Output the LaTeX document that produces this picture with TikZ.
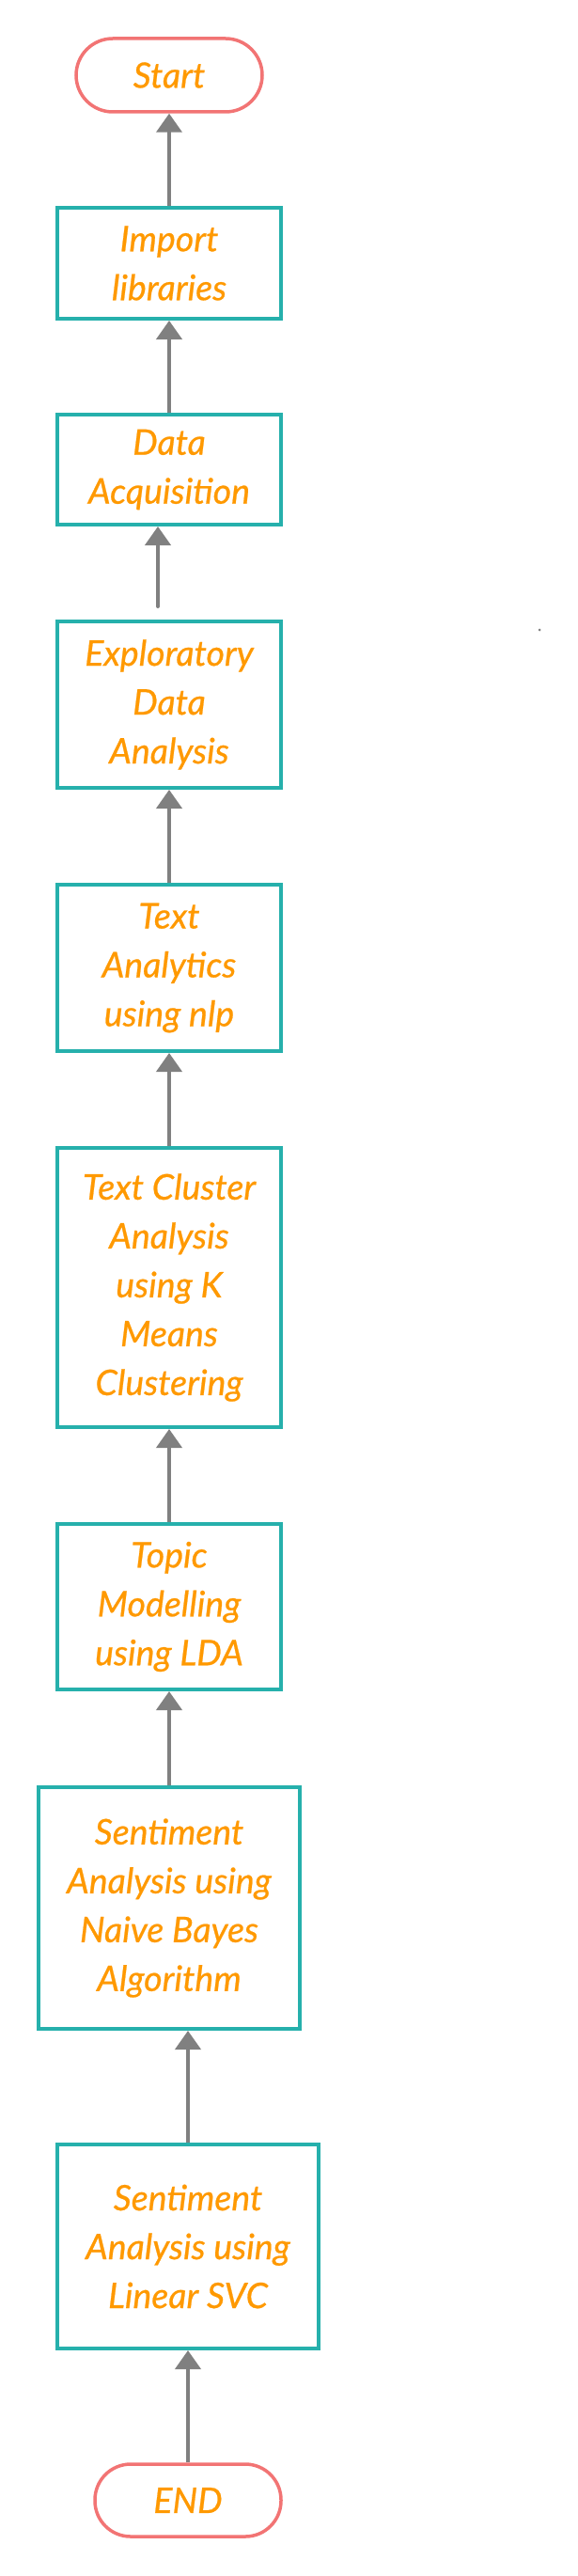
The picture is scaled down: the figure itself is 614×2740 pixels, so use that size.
\documentclass[tikz,border=0pt]{standalone}
\usepackage{fontspec}
\setmainfont{Lato}[ItalicFeatures={FakeBold=0.6}]
\usepackage{xcolor}
\usetikzlibrary{arrows.meta}

\definecolor{boxteal}{RGB}{38,176,172}
\definecolor{termred}{RGB}{242,116,116}
\definecolor{textorange}{RGB}{255,153,0}
\definecolor{arrowgray}{RGB}{128,128,128}

\begin{document}
\begin{tikzpicture}
[x=1pt,y=-1pt,
  every node/.style={text=textorange,align=center,inner sep=0pt,
    font=\fontsize{37.5}{52}\selectfont\itshape},
  proc/.style={draw=boxteal,line width=4pt,minimum width=238pt},
  term/.style={draw=termred,line width=3.5pt,minimum width=198pt,rounded corners=38pt},
  flow/.style={draw=arrowgray,line width=4pt,-{Triangle[width=27pt,length=20pt]}}]
 \path[use as bounding box,fill=white] (0,0) rectangle (614,2740);
 % blocks, top to bottom
 \node[term,minimum height=78pt,rounded corners=39pt] (start) at (180,80) {Start};
 \node[proc,minimum height=118pt] (import) at (180,280) {Import\\libraries};
 \node[proc,minimum height=117pt] (acq) at (180,499.5) {Data\\Acquisition};
 \node[proc,minimum height=177pt] (eda) at (180,749.5) {Exploratory\\Data\\Analysis};
 \node[proc,minimum height=177pt] (nlp) at (180,1029.5) {Text\\Analytics\\using nlp};
 \node[proc,minimum height=297pt] (cluster) at (180,1369.5) {Text Cluster\\Analysis\\using K\\Means\\Clustering};
 \node[proc,minimum height=176pt] (lda) at (180,1709) {Topic\\Modelling\\using LDA};
 \node[proc,minimum width=278pt,minimum height=257pt] (bayes) at (180,2029.5) {Sentiment\\Analysis using\\Naive Bayes\\Algorithm};
 \node[proc,minimum width=278pt,minimum height=217pt] (svc) at (200,2389.5) {Sentiment\\Analysis using\\Linear SVC};
 \node[term,minimum height=77pt] (finish) at (200,2659.5) {END};
 \coordinate (loose) at (168,645);
 % arrows
 \draw[flow] (import) -- (start);
 \draw[flow] (acq) -- (import);
 \draw[flow,line cap=round] (loose) -- (acq.south -| loose);
 \draw[flow] (nlp) -- (eda);
 \draw[flow] (cluster) -- (nlp);
 \draw[flow] (lda) -- (cluster);
 \draw[flow] (bayes) -- (lda);
 \draw[flow] (svc.north) -- (bayes.south -| svc.north);
 \draw[flow] (finish) -- (svc);
 \fill[arrowgray] (574,670) circle (1.5);
\end{tikzpicture}
\end{document}
